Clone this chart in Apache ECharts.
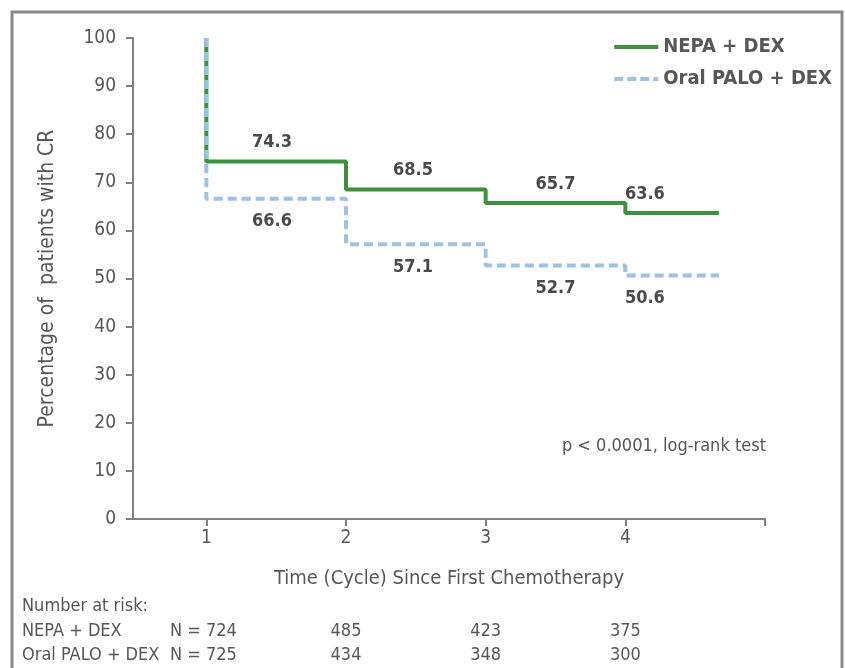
<!DOCTYPE html>
<html>
<head>
<meta charset="utf-8">
<script src="https://cdn.jsdelivr.net/npm/echarts@6/dist/echarts.min.js"></script>
<style>
  html, body { margin: 0; padding: 0; background: #fff; }
  #chart { width: 845px; height: 668px; }
</style>
</head>
<body>
<div id="chart"></div>
<script>
// time points (cycles) where the curves step down
const stepTimes = [1, 2, 3, 4];
const followEnd = 4.67;
const startPct = 100;
// percentage of patients with CR
const nepaValues = [74.3, 68.5, 65.7, 63.6];
const paloValues = [66.6, 57.1, 52.7, 50.6];
// where the value labels sit along x
const labelTimes = [1.47, 2.48, 3.5, 4.14];
// number at risk
const riskTimes = [1, 2, 3, 4];
const riskNepa = [724, 485, 423, 375];
const riskPalo = [725, 434, 348, 300];
const xTickLabels = [1, 2, 3, 4];

const FONT = "'Liberation Sans Narrow', 'DejaVu Sans Condensed', sans-serif";
const TXT = '#575757';
const LBL = '#4a4a4a';
const GREEN = '#3c923c';
const BLUE = '#9cc2e6';

function kmPoints(values) {
  const pts = [[stepTimes[0], startPct]];
  stepTimes.forEach((t, i) => pts.push([t, values[i]]));
  pts.push([followEnd, values[values.length - 1]]);
  return pts;
}

const chart = echarts.init(document.getElementById('chart'));

const option = {
  animation: false,
  grid: { left: 133, right: 80, top: 38, bottom: 149 },
  legend: {
    data: [
      { name: 'NEPA + DEX', icon: 'rect', itemStyle: { color: GREEN } },
      { name: 'Oral PALO + DEX', icon: 'path://M0,0h9v4h-9z M13,0h9v4h-9z M26,0h9v4h-9z M39,0h5v4h-5z', itemStyle: { color: BLUE } }
    ],
    orient: 'vertical',
    right: 8,
    top: 32,
    itemWidth: 44,
    itemHeight: 4,
    itemGap: 12,
    textStyle: { fontFamily: FONT, fontSize: 20, fontWeight: 'bold', color: TXT, padding: [0, 0, 0, 0] }
  },
  title: {
    text: 'p < 0.0001, log-rank test',
    right: 79,
    top: 437,
    padding: 0,
    textStyle: { fontFamily: FONT, fontSize: 18, fontWeight: 'normal', color: TXT }
  },
  xAxis: {
    type: 'value',
    min: 0.475,
    max: 5,
    name: 'Time (Cycle) Since First Chemotherapy',
    nameLocation: 'middle',
    nameGap: 50,
    nameTextStyle: { fontFamily: FONT, fontSize: 20, color: TXT },
    splitLine: { show: false },
    axisLine: { lineStyle: { color: '#808080', width: 2 } },
    axisTick: { show: true, length: 7, customValues: [1, 2, 3, 4, 5], lineStyle: { color: '#808080', width: 2 } },
    axisLabel: { customValues: xTickLabels, fontFamily: FONT, fontSize: 19, color: TXT, margin: 10 }
  },
  yAxis: {
    type: 'value',
    min: 0,
    max: 100,
    interval: 10,
    name: 'Percentage of  patients with CR',
    nameLocation: 'middle',
    nameGap: 75,
    nameTextStyle: { fontFamily: FONT, fontSize: 21, color: TXT },
    splitLine: { show: false },
    axisLine: { show: true, lineStyle: { color: '#808080', width: 2 } },
    axisTick: { show: true, length: 7, lineStyle: { color: '#808080', width: 2 } },
    axisLabel: { fontFamily: FONT, fontSize: 19, color: TXT, margin: 17 }
  },
  series: [
    {
      name: 'NEPA + DEX',
      type: 'line',
      step: 'end',
      symbol: 'none',
      z: 2,
      lineStyle: { color: GREEN, width: 4 },
      itemStyle: { color: GREEN },
      data: kmPoints(nepaValues)
    },
    {
      name: 'Oral PALO + DEX',
      type: 'line',
      step: 'end',
      symbol: 'none',
      z: 3,
      lineStyle: { color: BLUE, width: 4, type: [9, 5] },
      itemStyle: { color: BLUE },
      data: kmPoints(paloValues)
    },
    {
      name: 'nepaLabels',
      type: 'scatter',
      symbolSize: 0,
      silent: true,
      itemStyle: { color: LBL },
      label: {
        show: true, position: 'top', distance: 10,
        formatter: p => p.value[1].toFixed(1),
        fontFamily: FONT, fontSize: 18, fontWeight: 'bold', color: LBL, opacity: 1
      },
      data: labelTimes.map((t, i) => [t, nepaValues[i]])
    },
    {
      name: 'paloLabels',
      type: 'scatter',
      symbolSize: 0,
      silent: true,
      itemStyle: { color: LBL },
      label: {
        show: true, position: 'bottom', distance: 14,
        formatter: p => p.value[1].toFixed(1),
        fontFamily: FONT, fontSize: 18, fontWeight: 'bold', color: LBL, opacity: 1
      },
      data: labelTimes.map((t, i) => [t, paloValues[i]])
    }
  ]
};

chart.setOption(option);

// frame and number-at-risk table
const tableStyle = { fontFamily: FONT, fontSize: 18, fill: TXT };
const graphics = [
  {
    type: 'rect',
    shape: { x: 12, y: 12, width: 830, height: 680 },
    style: { fill: 'none', stroke: '#8a8a8a', lineWidth: 3 },
    silent: true
  },
  { type: 'text', left: 22, top: 597, style: Object.assign({ text: 'Number at risk:' }, tableStyle) },
  { type: 'text', left: 22, top: 622, style: Object.assign({ text: 'NEPA + DEX' }, tableStyle) },
  { type: 'text', left: 22, top: 646, style: Object.assign({ text: 'Oral PALO + DEX' }, tableStyle) }
];
riskTimes.forEach((t, i) => {
  if (i === 0) {
    graphics.push({ type: 'text', left: 170, top: 622, style: Object.assign({ text: 'N = ' + riskNepa[i] }, tableStyle) });
    graphics.push({ type: 'text', left: 170, top: 646, style: Object.assign({ text: 'N = ' + riskPalo[i] }, tableStyle) });
    return;
  }
  const px = chart.convertToPixel({ xAxisIndex: 0 }, t);
  graphics.push({ type: 'text', x: px, y: 622, style: Object.assign({ text: String(riskNepa[i]), align: 'center' }, tableStyle) });
  graphics.push({ type: 'text', x: px, y: 646, style: Object.assign({ text: String(riskPalo[i]), align: 'center' }, tableStyle) });
});
chart.setOption({ graphic: graphics });
</script>
</body>
</html>
